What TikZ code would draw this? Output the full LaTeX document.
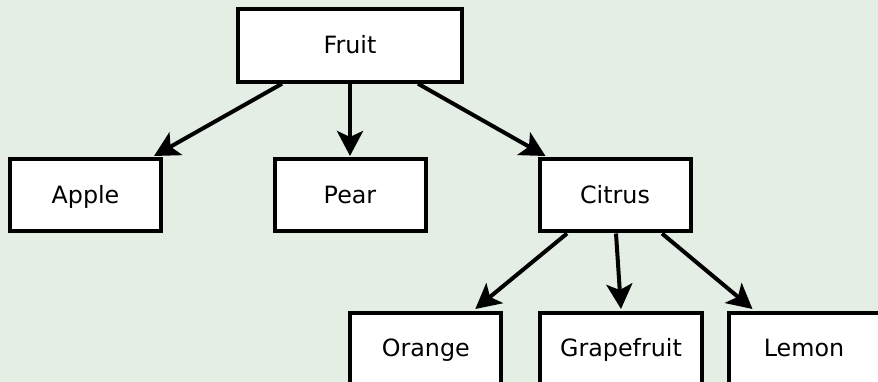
\documentclass[tikz,border=0pt]{standalone}
\usepackage{fontspec}
\setmainfont{DejaVu Sans}
\usetikzlibrary{arrows.meta,calc}
\definecolor{bgc}{RGB}{228,238,228}
\begin{document}
\begin{tikzpicture}[x=1pt,y=-1pt,
  box/.style={draw=black,fill=white,line width=4pt,minimum width=151pt,minimum height=72pt,
    inner sep=0pt,text height=17pt,text depth=1pt,font=\fontsize{23.8}{28}\selectfont},
  conn/.style={line width=4pt,-{Stealth[length=25pt,width=26pt,inset=6pt]}}]
\useasboundingbox (0,0) rectangle (878,382);
\fill[bgc] (0,0) rectangle (878,382);
\node[box,minimum width=224pt,minimum height=73pt] (fruit) at (350,45.2) {Fruit};
\node[box] (apple) at (85.5,195.5) {Apple};
\node[box] (pear) at (350,195.5) {Pear};
\node[box] (citrus) at (615,195.5) {Citrus};
\node[box] (orange) at (425.8,348.5) {Orange};
\node[box,minimum width=162pt] (grape) at (621,348.5) {Grapefruit};
\node[box] (lemon) at (804,348.5) {Lemon};
\draw[conn] ([xshift=-68pt]fruit.south) -- ([xshift=-9pt,yshift=1.5pt]apple.north east);
\draw[conn] (fruit.south) -- ([yshift=1.5pt]pear.north);
\draw[conn] ([xshift=68pt]fruit.south) -- ([xshift=8pt,yshift=1.5pt]citrus.north west);
\draw[conn] ([xshift=-48pt]citrus.south) -- ([xshift=-28pt,yshift=1.5pt]orange.north east);
\draw[conn] ([xshift=1pt]citrus.south) -- ([yshift=1.5pt]grape.north);
\draw[conn] ([xshift=47pt]citrus.south) -- ([xshift=26pt,yshift=1.5pt]lemon.north west);
\end{tikzpicture}
\end{document}
